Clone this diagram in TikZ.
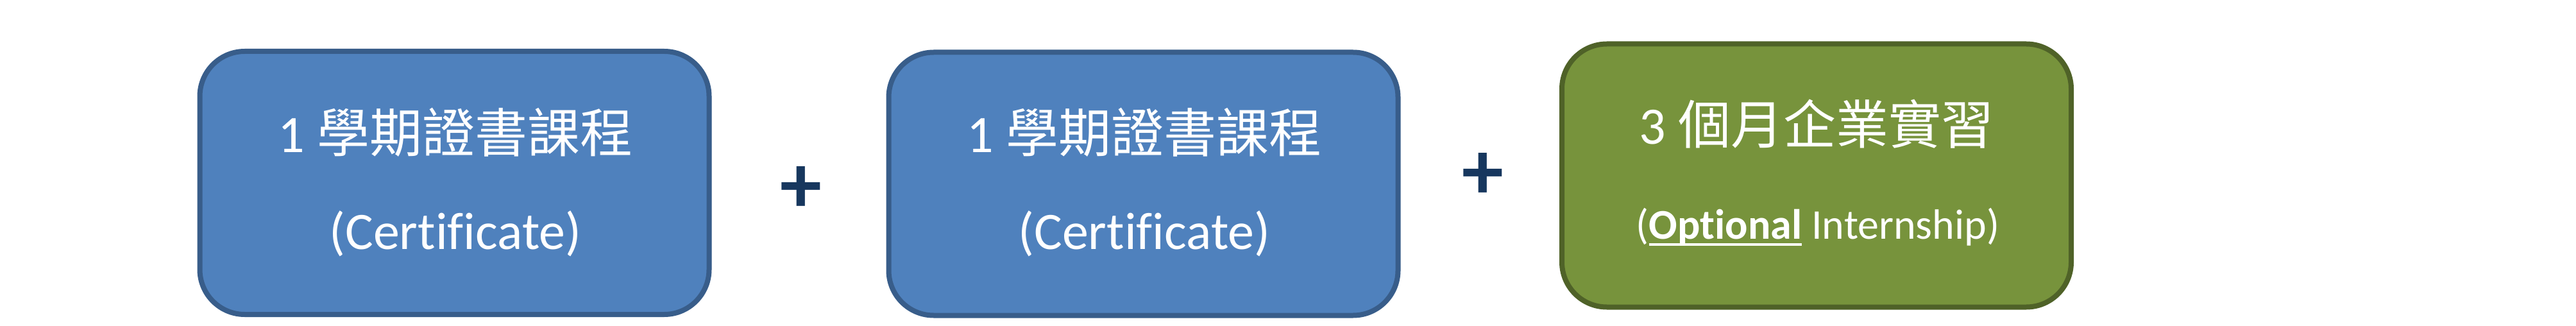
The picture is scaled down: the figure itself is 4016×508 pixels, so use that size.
\documentclass[tikz,border=0pt]{standalone}
\usepackage{fontspec}
\setmainfont{Carlito}[Ligatures={NoCommon}]
\newfontfamily\cjk{Noto Sans CJK TC}
\definecolor{bluefill}{HTML}{4F81BD}
\definecolor{blueline}{HTML}{385D8A}
\definecolor{greenfill}{HTML}{77933C}
\definecolor{greenline}{HTML}{4F6228}
\definecolor{plusblue}{HTML}{17375E}
\newcommand\myul[1]{\setbox0\hbox{#1}\rlap{\rule[-11pt]{\wd0}{4pt}}\box0\relax}
\tikzset{
  card/.style={draw, line width=8pt, rounded corners=70pt, minimum width=794pt, minimum height=410pt, inner sep=0pt},
  bluecard/.style={card, fill=bluefill, draw=blueline},
  greencard/.style={card, fill=greenfill, draw=greenline},
  label/.style={text=white, inner sep=0pt, anchor=base, font=\fontsize{82}{98}\selectfont},
  smalllabel/.style={label, font=\fontsize{66}{80}\selectfont},
  plussign/.style={text=plusblue, inner sep=0pt, anchor=base, font=\fontsize{130}{140}\selectfont\bfseries}
}
\begin{document}
\begin{tikzpicture}[x=1pt,y=-1pt]
\useasboundingbox[fill=white] (0,0) rectangle (4016,508);
\node[bluecard] (b1) at (708.5,285) {};
\node[bluecard] (b2) at (1782.5,286.5) {};
\node[greencard] (b3) at (2832,273.5) {};
\node[label] (t1a) at (710,237) {1 {\cjk 學期證書課程}};
\node[label] (t1b) at (710,388) {(Certificate)};
\node[label] (t2a) at (1784,237) {1 {\cjk 學期證書課程}};
\node[label] (t2b) at (1784,388) {(Certificate)};
\node[label] (t3a) at (2832,224) {3 {\cjk 個月企業實習}};
\node[smalllabel] (t3b) at (2834,372) {(\myul{\textbf{Optional}} Internship)};
\node[plussign] (p1) at (1249,331) {+};
\node[plussign] (p2) at (2312,310) {+};
\end{tikzpicture}
\end{document}
